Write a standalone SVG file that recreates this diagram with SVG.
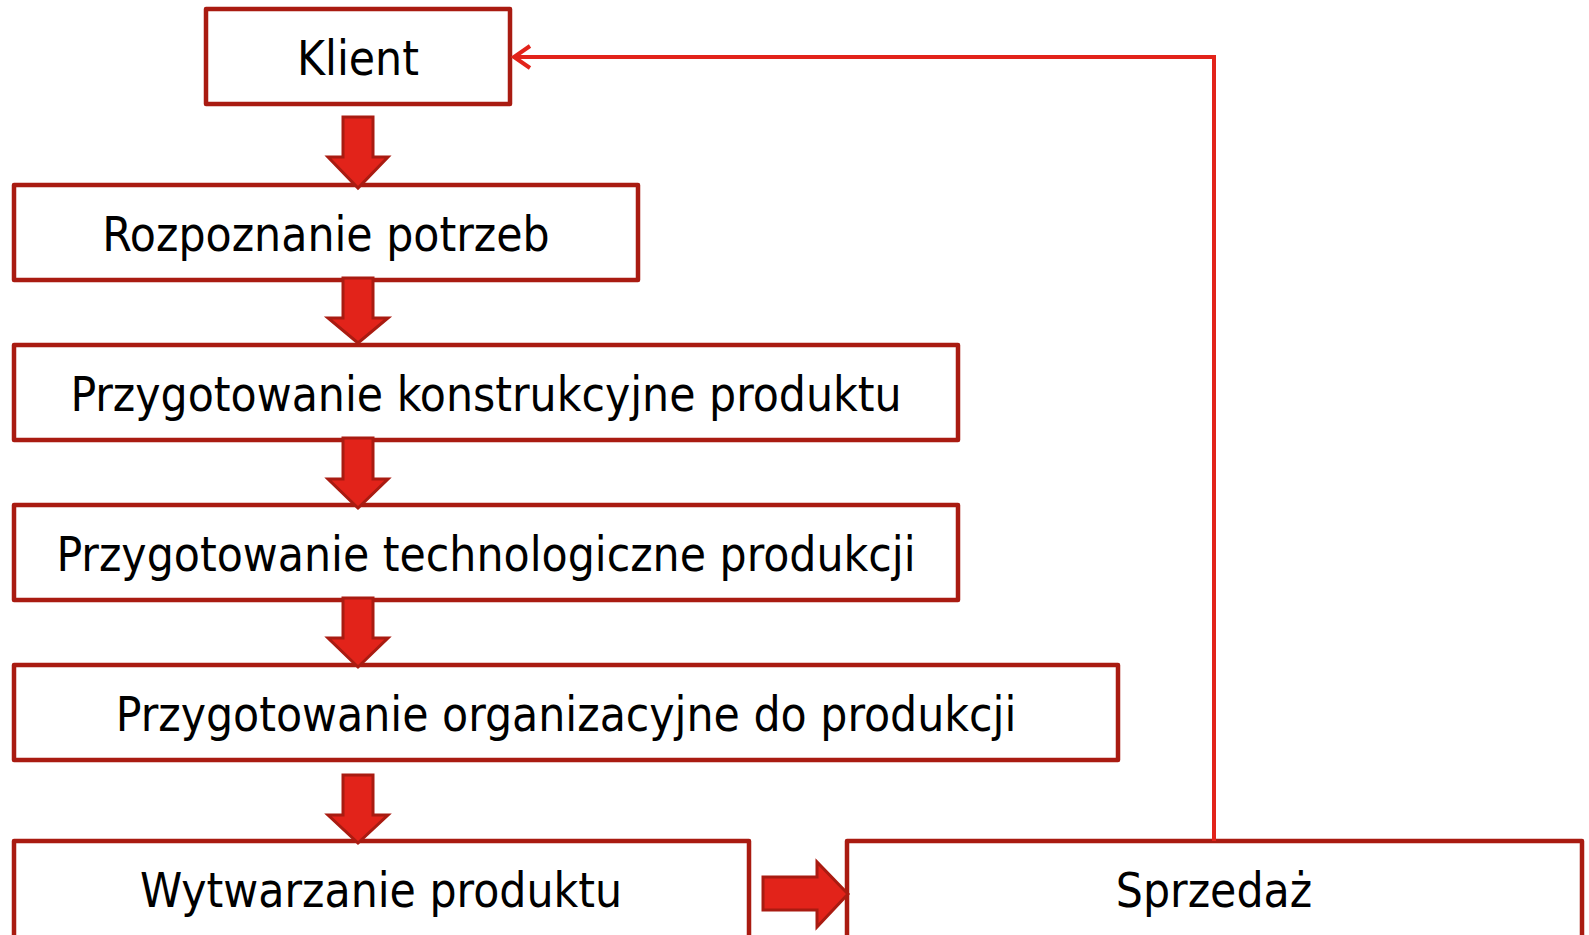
<svg xmlns="http://www.w3.org/2000/svg" width="1589" height="935" viewBox="0 0 1589 935">
  <style>
    .box { fill: #ffffff; stroke: #a91b11; stroke-width: 4.5; stroke-linejoin: round; }
    .label { font-family: "DejaVu Sans Condensed", "DejaVu Sans", sans-serif; font-size: 47.5px; fill: #000000; text-anchor: middle; }
    .block { fill: #e2231a; stroke: #a91b11; stroke-width: 3; stroke-linejoin: miter; }
    .feedback { fill: none; stroke: #e2231a; stroke-width: 4; stroke-linejoin: miter; }
  </style>
  <rect width="1589" height="935" fill="#ffffff"/>

  <g id="node-klient">
    <rect class="box" x="206" y="9" width="304" height="95"/>
    <text class="label" x="358" y="75">Klient</text>
  </g>
  <g id="node-rozpoznanie">
    <rect class="box" x="14" y="185" width="624" height="95"/>
    <text class="label" x="326" y="251">Rozpoznanie potrzeb</text>
  </g>
  <g id="node-konstrukcyjne">
    <rect class="box" x="14" y="345" width="944" height="95"/>
    <text class="label" x="486" y="411">Przygotowanie konstrukcyjne produktu</text>
  </g>
  <g id="node-technologiczne">
    <rect class="box" x="14" y="505" width="944" height="95"/>
    <text class="label" x="486" y="571">Przygotowanie technologiczne produkcji</text>
  </g>
  <g id="node-organizacyjne">
    <rect class="box" x="14" y="665" width="1104" height="95"/>
    <text class="label" x="566" y="731">Przygotowanie organizacyjne do produkcji</text>
  </g>
  <g id="node-wytwarzanie">
    <rect class="box" x="14" y="841" width="735" height="97"/>
    <text class="label" x="381" y="907">Wytwarzanie produktu</text>
  </g>
  <g id="node-sprzedaz">
    <rect class="box" x="847" y="841" width="735" height="97"/>
    <text class="label" x="1214" y="907">Sprzedaż</text>
  </g>

  <g id="connectors">
    <!-- downward block arrows between stages -->
    <path class="block" d="M343,117 H373 V157 H388 L358,188 L328,157 H343 Z"/>
    <path class="block" d="M343,278 H373 V318 H388 L358,343 L328,318 H343 Z"/>
    <path class="block" d="M343,438 H373 V479 H388 L358,508 L328,479 H343 Z"/>
    <path class="block" d="M343,598 H373 V638 H388 L358,667 L328,638 H343 Z"/>
    <path class="block" d="M343,775 H373 V815 H388 L358,843 L328,815 H343 Z"/>
    <!-- production to sales -->
    <path class="block" d="M763,877 H817 V862 L848,894 L817,927 V910 H763 Z"/>
    <!-- feedback from sales back to the client -->
    <path class="feedback" d="M1214,841 V57 H514"/>
    <path class="feedback" d="M530,46 L514,57 L530,68"/>
  </g>
</svg>
